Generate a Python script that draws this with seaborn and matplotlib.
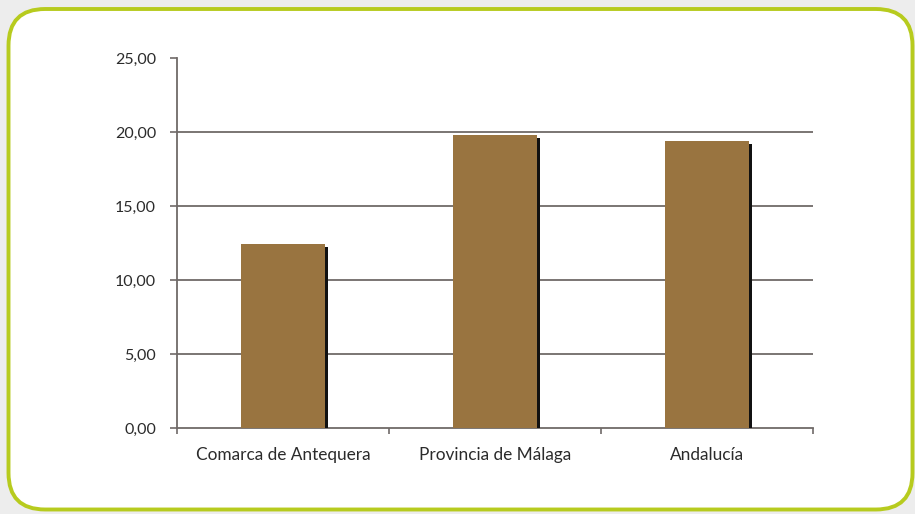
import matplotlib
matplotlib.use('Agg')
import matplotlib.pyplot as plt
import matplotlib.patheffects as pe
from matplotlib.patches import FancyBboxPatch
from matplotlib.ticker import FixedLocator, FuncFormatter
import seaborn as sns
import pandas as pd

# data
zonas = ['Comarca de Antequera', 'Provincia de Málaga', 'Andalucía']
valores = [12.43, 19.80, 19.39]
y_ticks = [0, 5, 10, 15, 20, 25]

df = pd.DataFrame({'zona': zonas, 'valor': valores})

sns.set_theme(style='white')
plt.rcParams['font.family'] = ['Lato', 'DejaVu Sans']

W, H = 915, 514
fig = plt.figure(figsize=(W / 100, H / 100), dpi=100)
fig.patch.set_facecolor('#ededed')

# rounded green frame
frame = FancyBboxPatch((8.5 / W, 4.5 / H), (W - 11) / W, (H - 13.5) / H,
                       boxstyle='round,pad=0,rounding_size=0.04',
                       transform=fig.transFigure, facecolor='white',
                       edgecolor='#b7cb1e', linewidth=2.8, mutation_aspect=W / H,
                       zorder=-10)
fig.patches.append(frame)

ax = fig.add_axes([177 / W, (H - 428) / H, (813 - 177) / W, (428 - 58) / H])
ax.set_zorder(5)
ax.set_facecolor('none')

sns.barplot(data=df, x='zona', y='valor', color='#997440', width=0.4,
            saturation=1, linewidth=0, edgecolor='none', ax=ax, zorder=3)
for p in ax.patches:
    p.set_path_effects([pe.SimplePatchShadow(offset=(2.2, -2.2), shadow_rgbFace='#111111', alpha=1),
                        pe.Normal()])

ax.set_xlim(-0.5, 2.5)
ax.set_ylim(0, 25)
ax.yaxis.set_major_locator(FixedLocator(y_ticks))
ax.yaxis.set_major_formatter(FuncFormatter(lambda v, _: f'{v:.2f}'.replace('.', ',')))
for v in y_ticks[1:-1]:
    ax.axhline(v, color='#6f6a68', lw=1.3, zorder=1)

ax.set_xticks([0, 1, 2])
ax.set_xticks([-0.5, 0.5, 1.5, 2.5], minor=True)
ax.tick_params(axis='x', which='major', bottom=True, length=0, pad=14, labelsize=12.4, labelcolor='#2b2b2b')
ax.tick_params(axis='x', which='minor', bottom=True, length=4, width=1.2, color='#6f6a68', direction='out')
ax.tick_params(axis='y', left=True, length=5, width=1.2, color='#6f6a68', direction='out', pad=10,
               labelsize=11.5, labelcolor='#2b2b2b')
ax.set_xlabel('')
ax.set_ylabel('')

sns.despine(ax=ax)
for s in ['left', 'bottom']:
    ax.spines[s].set_color('#6f6a68')
    ax.spines[s].set_linewidth(1.3)

fig.savefig('out.png', dpi=100, facecolor=fig.get_facecolor())
